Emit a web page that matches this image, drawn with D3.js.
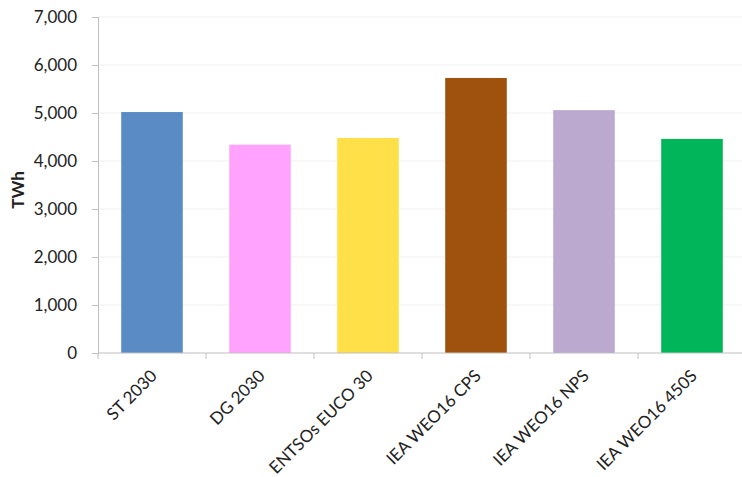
<!DOCTYPE html>
<html>
<head>
<meta charset="utf-8">
<script src="https://cdn.jsdelivr.net/npm/d3@7"></script>
<style>
  body { margin: 0; background: #fff; }
  text { font-family: Lato, "Open Sans", sans-serif; fill: #222; }
</style>
</head>
<body>
<svg width="742" height="477"></svg>
<script>
const categories = ['ST 2030', 'DG 2030', 'ENTSOs EUCO 30', 'IEA WEO16 CPS', 'IEA WEO16 NPS', 'IEA WEO16 450S'];
const values = [5020, 4340, 4480, 5730, 5060, 4460];
const colors = ['#5b8bc5', '#ffa3fe', '#ffe048', '#9e520d', '#bba9cf', '#00b55a'];
const yTicks = [0, 1000, 2000, 3000, 4000, 5000, 6000, 7000];

const svg = d3.select('svg');
const x = d3.scaleBand().domain(categories).range([98, 746]).paddingInner(0.43).paddingOuter(0.215);
const y = d3.scaleLinear().domain([0, 7000]).range([353, 17]);

// gridlines
svg.append('g')
  .selectAll('line')
  .data(yTicks.slice(1))
  .join('line')
  .attr('x1', 98).attr('x2', 742)
  .attr('y1', d => y(d)).attr('y2', d => y(d))
  .attr('stroke', '#efefef');

// bars
svg.append('g')
  .selectAll('rect')
  .data(values)
  .join('rect')
  .attr('x', (d, i) => x(categories[i]))
  .attr('width', x.bandwidth())
  .attr('y', d => y(d))
  .attr('height', d => y(0) - y(d))
  .attr('fill', (d, i) => colors[i]);

// y axis
const yAxis = svg.append('g')
  .attr('transform', 'translate(98,0)')
  .call(d3.axisLeft(y).tickValues(yTicks).tickFormat(d3.format(',')).tickSize(6).tickPadding(15));
yAxis.attr('font-family', null).attr('font-size', null);
yAxis.select('.domain').attr('stroke', '#bfbfbf');
yAxis.selectAll('.tick line').attr('stroke', '#bfbfbf');
yAxis.selectAll('text').attr('font-size', 17).attr('fill', '#222');

// x axis
const xAxisLine = svg.append('g');
xAxisLine.append('line')
  .attr('x1', 98).attr('x2', 742).attr('y1', y(0)).attr('y2', y(0))
  .attr('stroke', '#bfbfbf');
const bounds = categories.map(c => x(c) - x.step() * x.paddingInner() / 2);
xAxisLine.selectAll('line.tk')
  .data(bounds)
  .join('line')
  .attr('class', 'tk')
  .attr('x1', d => d).attr('x2', d => d)
  .attr('y1', y(0)).attr('y2', y(0) + 6)
  .attr('stroke', '#bfbfbf');

svg.append('g')
  .selectAll('text')
  .data(categories)
  .join('text')
  .attr('transform', d => `translate(${x(d) + x.bandwidth() / 2 + 6},${y(0) + 24}) rotate(-45)`)
  .attr('text-anchor', 'end')
  .attr('font-size', 17)
  .text(d => d);

// y label
svg.append('text')
  .attr('transform', 'translate(24,190) rotate(-90)')
  .attr('text-anchor', 'middle')
  .attr('font-size', 17)
  .attr('font-weight', 'bold')
  .text('TWh');
</script>
</body>
</html>
